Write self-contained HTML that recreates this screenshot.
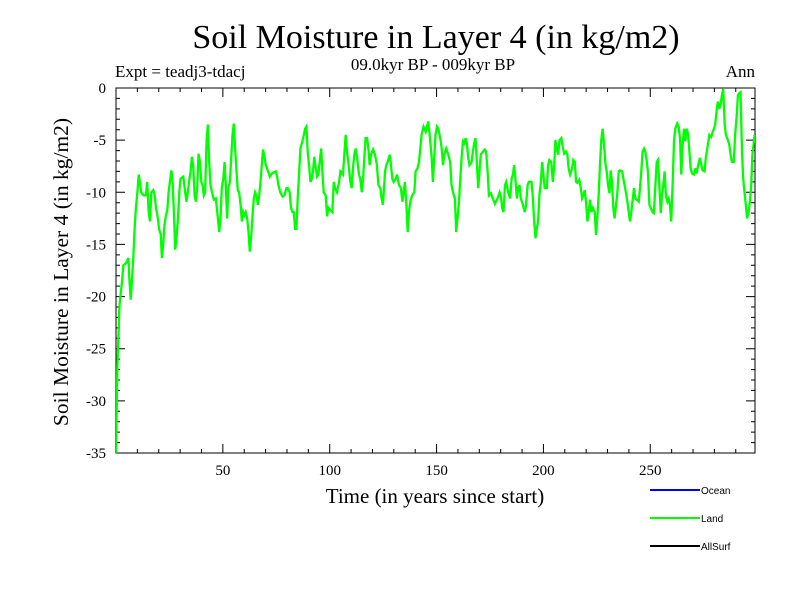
<!DOCTYPE html>
<html><head><meta charset="utf-8"><style>
body{margin:0;background:#fff}
svg{display:block}
text{font-family:"Liberation Serif",serif;fill:#000}
</style></head><body>
<svg id="chart" width="800" height="600" xmlns="http://www.w3.org/2000/svg">
<rect width="800" height="600" fill="#fff"/>
<text x="436" y="48" font-size="34" text-anchor="middle">Soil Moisture in Layer 4 (in kg/m2)</text>
<text x="115" y="77" font-size="17">Expt = teadj3-tdacj</text>
<text x="433" y="70" font-size="17" text-anchor="middle">09.0kyr BP - 009kyr BP</text>
<text x="755" y="77" font-size="17" text-anchor="end">Ann</text>
<text transform="translate(68,272) rotate(-90)" font-size="21.5" text-anchor="middle">Soil Moisture in Layer 4 (in kg/m2)</text>
<text x="435" y="503" font-size="21" text-anchor="middle">Time (in years since start)</text>
<g id="axes"></g>
<g id="series"></g>
<g id="legend"></g>
</svg>
<script>
const years=[0,0.6,1.1,1.6,2.2,2.8,3.4,4.7,5.8,6.2,6.9,7.3,8.1,8.7,9.3,10.0,10.6,11.2,11.8,12.8,14.0,14.6,15.3,15.9,16.5,17.4,18.1,18.7,19.6,20.2,20.9,21.5,22.1,22.7,23.4,24.0,24.6,25.2,25.9,26.5,27.1,27.7,28.3,29.0,29.6,30.2,31.5,32.4,33.0,33.6,34.3,34.9,35.5,36.1,36.8,37.4,38.0,38.6,39.3,39.9,40.5,41.1,41.7,42.4,43.0,43.6,44.2,44.9,45.8,46.7,47.4,48.3,48.9,49.5,50.2,50.8,51.4,52.0,52.6,53.3,53.9,54.5,55.1,55.8,56.4,57.0,57.6,58.3,58.9,59.5,60.1,60.7,61.4,62.0,62.6,63.2,63.9,64.5,65.1,65.7,66.4,67.0,67.6,68.2,68.8,69.5,70.1,71.0,72.0,72.9,73.8,74.8,75.4,76.0,76.9,77.9,78.8,79.8,80.4,81.3,81.9,82.6,83.2,83.8,84.4,85.0,85.7,86.3,87.2,87.9,88.5,89.1,89.7,90.3,91.0,91.6,92.2,92.8,93.5,94.1,94.7,95.3,96.0,96.6,97.2,98.1,98.8,99.4,
101.2,101.9,102.5,103.4,104.4,105.0,106.2,106.9,107.5,108.1,108.7,109.7,110.3,110.9,111.5,112.2,112.8,113.7,114.3,115.0,115.6,116.2,116.8,117.5,118.1,118.7,119.3,120.3,121.2,122.1,122.8,123.7,124.3,124.9,125.9,126.5,127.1,128.1,128.7,129.3,129.9,130.9,131.5,132.4,133.3,134.0,135.2,135.8,136.5,137.1,137.7,138.6,139.6,140.2,141.1,141.8,142.4,143.0,143.9,144.9,145.5,146.1,146.7,147.7,148.3,148.9,149.5,150.2,150.8,151.7,152.4,153.0,153.6,154.5,155.5,156.4,157.0,157.7,158.6,159.2,159.8,160.5,161.1,161.7,162.3,163.0,163.6,164.2,164.8,165.4,166.4,167.0,167.6,168.2,168.9,169.5,170.1,170.7,171.7,172.6,173.2,173.9,174.5,175.4,176.3,177.3,178.5,179.5,180.1,180.7,181.3,182.0,182.6,183.5,184.4,185.1,185.7,186.3,186.9,187.6,188.2,188.8,189.4,190.4,191.3,191.9,192.6,193.2,194.4,195.0,195.7,196.3,196.9,197.5,
198.1,198.8,199.4,200.0,200.6,201.6,202.2,202.8,203.7,204.4,205.0,205.6,206.2,206.9,207.5,208.4,209.0,209.7,210.6,211.2,211.8,212.5,213.4,214.0,214.7,215.3,215.9,216.8,217.5,218.1,218.7,219.3,219.9,220.6,221.2,221.8,222.4,223.1,224.0,224.6,225.2,225.9,226.5,227.1,227.7,228.4,229.0,229.6,230.2,230.9,231.5,232.1,232.7,233.3,234.0,234.6,235.2,235.8,236.8,237.4,238.0,238.6,239.3,239.9,240.5,241.1,241.8,242.4,243.0,243.6,244.6,245.2,245.8,246.4,247.1,247.7,248.3,248.9,249.6,250.2,251.1,251.7,252.4,253.0,253.6,254.2,254.9,255.5,256.1,256.7,257.3,258.0,258.6,259.2,259.8,260.5,261.1,261.7,262.6,263.3,263.9,264.5,265.1,265.8,266.4,267.0,267.6,268.3,268.9,269.5,270.4,271.1,271.7,272.3,273.2,273.9,274.5,275.4,276.0,276.7,277.6,278.5,279.2,279.8,280.4,281.0,281.6,282.3,282.9,283.5,284.1,284.8,285.4,286.3,287.0,287.6,288.2,289.1,289.7,290.4,291.0,291.6,292.2,292.9,293.5,294.1,294.7,295.3,296.0,296.6,297.2,297.8,298.8];
const landValues=[-35.0,-26.9,-24.0,-21.0,-19.7,-18.6,-17.0,-16.8,-16.3,-18.2,-20.3,-19.0,-16.3,-13.5,-11.5,-10.0,-8.3,-9.0,-10.0,-10.3,-10.3,-9.0,-11.9,-12.8,-10.0,-9.8,-10.3,-11.5,-12.5,-13.6,-14.0,-16.3,-15.0,-13.1,-12.2,-11.7,-10.0,-9.0,-7.9,-9.0,-11.9,-15.5,-14.4,-12.5,-10.0,-8.7,-8.5,-10.0,-10.9,-10.0,-8.8,-8.0,-6.6,-7.4,-10.3,-10.9,-9.6,-6.3,-7.1,-9.0,-9.3,-10.3,-10.0,-5.0,-3.5,-7.1,-9.3,-10.0,-10.7,-10.6,-11.9,-13.8,-12.5,-9.6,-8.7,-7.1,-9.3,-12.5,-9.6,-9.0,-6.7,-4.5,-3.4,-6.1,-8.0,-9.8,-10.0,-11.2,-12.8,-11.9,-12.2,-11.9,-12.5,-13.8,-15.7,-14.4,-12.2,-10.6,-10.0,-10.3,-11.2,-10.3,-9.0,-7.4,-5.9,-6.6,-7.4,-7.9,-8.5,-8.2,-8.1,-8.0,-8.5,-9.3,-10.0,-10.4,-10.3,-9.6,-9.6,-10.0,-11.5,-11.9,-11.9,-13.5,-13.5,-10.6,-8.0,-5.8,-5.1,-4.5,-3.9,-3.7,-6.1,-7.4,-9.0,-8.7,-8.0,-6.6,-7.7,-8.5,-8.3,-7.1,-5.8,-8.0,-10.0,-10.3,-12.3,-11.5,
-11.9,-9.0,-9.6,-10.0,-9.0,-8.0,-8.3,-6.1,-4.5,-6.1,-7.1,-9.0,-9.6,-7.7,-6.4,-5.8,-6.7,-8.3,-8.7,-10.0,-8.7,-6.7,-4.8,-4.8,-5.8,-7.4,-6.4,-5.9,-6.4,-7.4,-9.3,-9.6,-10.6,-11.2,-8.0,-7.4,-7.1,-6.4,-7.4,-8.7,-9.0,-8.7,-8.3,-9.3,-9.6,-10.9,-9.0,-10.9,-13.8,-11.9,-10.9,-10.3,-10.0,-8.0,-7.7,-7.1,-5.8,-4.5,-3.7,-4.2,-3.7,-3.2,-4.3,-6.7,-9.0,-6.7,-4.5,-3.7,-3.9,-4.8,-5.8,-7.4,-6.4,-5.8,-6.4,-7.1,-9.3,-10.0,-10.6,-13.8,-12.5,-10.9,-8.7,-6.7,-5.1,-5.3,-4.8,-5.3,-6.7,-7.4,-7.1,-6.1,-5.3,-4.8,-7.4,-9.6,-8.0,-6.4,-6.1,-5.9,-6.1,-8.0,-10.3,-10.1,-10.6,-11.1,-10.6,-10.0,-10.4,-11.5,-11.9,-9.3,-9.0,-10.0,-10.6,-8.7,-8.3,-7.4,-8.7,-10.6,-9.6,-9.3,-10.6,-11.2,-11.9,-11.2,-9.3,-9.0,-9.0,-10.3,-12.8,-14.4,-13.5,-12.8,
-10.3,-9.0,-7.1,-8.3,-9.6,-9.6,-7.4,-6.9,-7.1,-9.0,-7.7,-5.0,-5.8,-6.4,-5.0,-4.8,-5.6,-6.3,-6.1,-6.4,-7.7,-8.3,-7.7,-6.9,-7.1,-9.0,-9.1,-8.8,-9.6,-10.6,-10.3,-9.8,-10.9,-12.8,-11.9,-10.7,-11.9,-11.5,-11.9,-14.1,-12.5,-10.0,-7.1,-5.0,-3.9,-5.5,-7.2,-8.0,-9.3,-10.1,-7.9,-9.0,-11.5,-12.5,-11.2,-10.0,-8.0,-7.9,-8.0,-8.7,-9.3,-10.0,-10.9,-11.9,-12.8,-11.9,-10.6,-9.6,-10.6,-10.7,-10.9,-9.6,-8.0,-6.1,-5.8,-6.1,-6.9,-8.0,-11.2,-11.5,-11.9,-12.0,-9.3,-7.1,-6.9,-9.3,-12.0,-10.3,-9.3,-8.0,-10.3,-10.9,-10.6,-11.2,-12.8,-9.0,-5.1,-3.9,-3.4,-3.7,-4.8,-8.3,-5.5,-3.9,-5.1,-3.9,-4.3,-6.1,-7.7,-8.2,-8.3,-7.7,-8.2,-7.5,-6.7,-7.4,-7.9,-8.0,-6.7,-5.8,-4.5,-4.7,-4.2,-3.9,-3.5,-2.3,-1.3,-2.0,-1.6,-0.7,-0.1,-3.5,-4.5,-5.0,-5.5,-6.4,-7.1,-7.1,-4.5,-2.8,-0.7,-0.5,-0.4,-6.1,-8.7,-10.0,-11.2,-12.5,-11.9,-10.9,-9.3,-6.4,-4.5];
const yTickLabels=["0","-5","-10","-15","-20","-25","-30","-35"];
const yTickValues=[0,-5,-10,-15,-20,-25,-30,-35];
const xTickValues=[50,100,150,200,250];
const legendNames=["Ocean","Land","AllSurf"];
const legendColors=["#0000ff","#00ff00","#000000"];

const NS="http://www.w3.org/2000/svg";
const L=116,R=755,T=88,B=453,XMIN=0,XMAX=299,YMIN=-35,YMAX=0;
const sx=v=>L+(v-XMIN)/(XMAX-XMIN)*(R-L);
const sy=v=>T+(YMAX-v)/(YMAX-YMIN)*(B-T);
function mk(tag,attrs,parent){const e=document.createElementNS(NS,tag);for(const k in attrs)e.setAttribute(k,attrs[k]);parent.appendChild(e);return e;}
const axes=document.getElementById('axes');
const frame=mk('rect',{x:L,y:T,width:R-L,height:B-T,fill:'none',stroke:'#000','stroke-width':1},axes);


let d='';
for(let v=-35;v<=0;v++){const y=sy(v);const len=(v%5===0)?9:4;d+=`M${L},${y}h${len}M${R},${y}h${-len}`;}
for(let v=10;v<XMAX;v+=10){const x=sx(v);const len=(v%50===0)?9:4;d+=`M${x},${B}v${-len}M${x},${T}v${len}`;}
const ticks=mk('path',{d:d,stroke:'#000','stroke-width':1,fill:'none'},axes);


yTickValues.forEach((v,i)=>{const t=mk('text',{x:106,y:sy(v)+5,'font-size':15,'text-anchor':'end'},axes);t.textContent=yTickLabels[i];

});
xTickValues.forEach(v=>{const t=mk('text',{x:sx(v),y:475,'font-size':15,'text-anchor':'middle'},axes);t.textContent=String(v);

});
const series=document.getElementById('series');
const cp=mk('clipPath',{id:'clip'},series);
mk('rect',{x:L,y:T-1,width:R-L,height:B-T+1},cp);
const pts=years.map((yr,i)=>sx(yr).toFixed(1)+','+sy(landValues[i]).toFixed(1)).join(' ');
const line=mk('polyline',{points:pts,fill:'none',stroke:'#00ff00','stroke-width':2.3,'stroke-linejoin':'miter','clip-path':'url(#clip)'},series);


const legend=document.getElementById('legend');
legendNames.forEach((n,i)=>{const y=490+i*28;
const g=mk('g',{},legend);


mk('line',{x1:650,x2:700,y1:y,y2:y,stroke:legendColors[i],'stroke-width':2},g);
const t=mk('text',{x:701,y:y+4,'font-size':10,style:'font-family:"Liberation Sans",sans-serif'},g);t.textContent=n;});
</script>
</body></html>
